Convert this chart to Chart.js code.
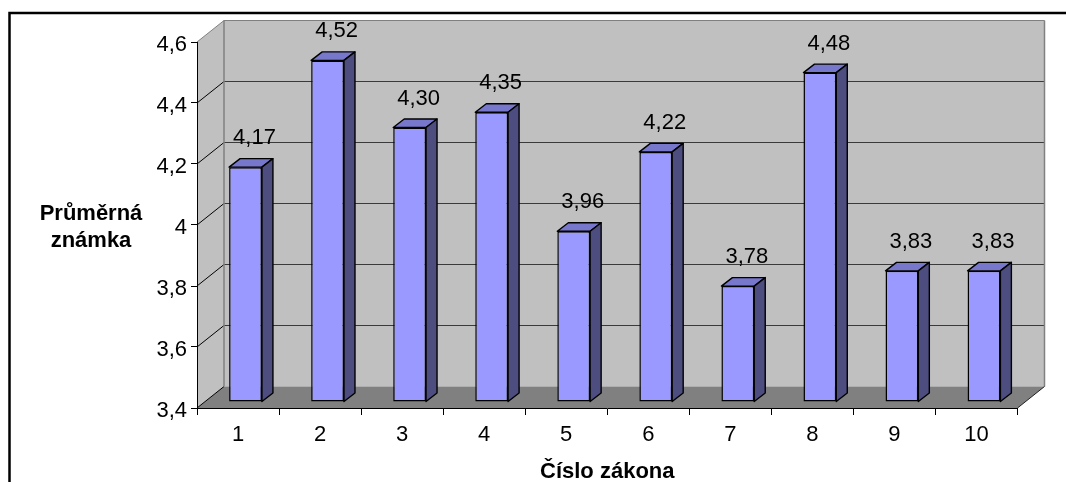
<!DOCTYPE html>
<html>
<head>
<meta charset="utf-8">
<script src="https://cdn.jsdelivr.net/npm/chart.js@4"></script>
<style>
  html, body { margin: 0; padding: 0; background: #fff; }
  canvas { display: block; }
</style>
</head>
<body>
<canvas id="chart" width="1066" height="482"></canvas>
<script>
// data
const categories = ['1', '2', '3', '4', '5', '6', '7', '8', '9', '10'];
const averages = [4.17, 4.52, 4.30, 4.35, 3.96, 4.22, 3.78, 4.48, 3.83, 3.83];
const yTickValues = [3.4, 3.6, 3.8, 4.0, 4.2, 4.4, 4.6];
const yTitleLines = ['Průměrná', 'známka'];
const xTitle = 'Číslo zákona';

// fake 3D offsets (front plane -> back wall, bar position, bar depth)
const WALL_DX = 27, WALL_DY = -21.5;
const BAR_DX = 7.5, BAR_DY = -6;
const SIDE_DX = 11, SIDE_DY = -8.5;

const FONT = "'Liberation Sans', Arial, sans-serif";
Chart.defaults.font.family = FONT;
Chart.defaults.font.size = 22;
Chart.defaults.color = '#000';

const fmt = (v, d) => v.toFixed(d).replace('.', ',');

// walls, floor and back gridlines, under everything
const walls = {
  id: 'walls',
  beforeDraw(chart) {
    const { ctx, chartArea: a, scales: { y } } = chart;
    const L = a.left, R = a.right, T = a.top, B = a.bottom;
    ctx.save();
    ctx.fillStyle = '#c0c0c0';
    // side wall
    ctx.beginPath();
    ctx.moveTo(L, T);
    ctx.lineTo(L + WALL_DX, T + WALL_DY);
    ctx.lineTo(L + WALL_DX, B + WALL_DY);
    ctx.lineTo(L, B);
    ctx.closePath();
    ctx.fill();
    // back wall
    ctx.fillRect(L + WALL_DX, T + WALL_DY, R - L, B - T);
    // floor
    ctx.fillStyle = '#808080';
    ctx.beginPath();
    ctx.moveTo(L, B);
    ctx.lineTo(R, B);
    ctx.lineTo(R + WALL_DX, B + WALL_DY);
    ctx.lineTo(L + WALL_DX, B + WALL_DY);
    ctx.closePath();
    ctx.fill();

    // gridlines on the back wall + diagonals on the side wall
    const top = yTickValues[yTickValues.length - 1];
    yTickValues.forEach(v => {
      const py = y.getPixelForValue(v);
      ctx.strokeStyle = v === top ? '#808080' : '#3a3a3a';
      ctx.lineWidth = 1.2;
      if (v !== yTickValues[0]) {
        ctx.beginPath();
        ctx.moveTo(L + WALL_DX, py + WALL_DY);
        ctx.lineTo(R + WALL_DX, py + WALL_DY);
        ctx.stroke();
      }
      ctx.strokeStyle = v === top ? '#808080' : '#000';
      ctx.lineWidth = 1;
      ctx.beginPath();
      ctx.moveTo(L, py);
      ctx.lineTo(L + WALL_DX, py + WALL_DY);
      ctx.stroke();
    });

    // wall edges
    ctx.strokeStyle = '#808080';
    ctx.lineWidth = 1.5;
    ctx.beginPath();
    ctx.moveTo(L + WALL_DX, B + WALL_DY);
    ctx.lineTo(L + WALL_DX, T + WALL_DY);
    ctx.moveTo(R + WALL_DX, T + WALL_DY);
    ctx.lineTo(R + WALL_DX, B + WALL_DY);
    ctx.stroke();
    // floor right edge
    ctx.strokeStyle = '#202020';
    ctx.lineWidth = 1;
    ctx.beginPath();
    ctx.moveTo(R, B);
    ctx.lineTo(R + WALL_DX, B + WALL_DY);
    ctx.stroke();
    ctx.restore();
  }
};

// shift bars into the floor and add top/side faces + value labels
const bars3d = {
  id: 'bars3d',
  beforeDatasetsDraw(chart) {
    chart.ctx.save();
    chart.ctx.translate(BAR_DX, BAR_DY);
  },
  afterDatasetsDraw(chart) {
    const ctx = chart.ctx;
    const meta = chart.getDatasetMeta(0);
    ctx.lineWidth = 1.4;
    ctx.strokeStyle = '#000';
    ctx.lineJoin = 'round';
    meta.data.forEach(bar => {
      const { x, y, base, width } = bar.getProps(['x', 'y', 'base', 'width'], true);
      const l = x - width / 2, r = x + width / 2;
      // top face
      ctx.fillStyle = '#7777cc';
      ctx.beginPath();
      ctx.moveTo(l, y);
      ctx.lineTo(l + SIDE_DX, y + SIDE_DY);
      ctx.lineTo(r + SIDE_DX, y + SIDE_DY);
      ctx.lineTo(r, y);
      ctx.closePath();
      ctx.fill();
      ctx.stroke();
      // side face
      ctx.fillStyle = '#4d4d80';
      ctx.beginPath();
      ctx.moveTo(r, y);
      ctx.lineTo(r + SIDE_DX, y + SIDE_DY);
      ctx.lineTo(r + SIDE_DX, base + SIDE_DY);
      ctx.lineTo(r, base);
      ctx.closePath();
      ctx.fill();
      ctx.stroke();
    });
    ctx.restore();

    ctx.save();
    ctx.font = '22px ' + FONT;
    ctx.fillStyle = '#000';
    ctx.textAlign = 'center';
    ctx.textBaseline = 'alphabetic';
    meta.data.forEach((bar, i) => {
      ctx.fillText(fmt(averages[i], 2), bar.x + BAR_DX + 9, bar.y + BAR_DY - 23);
    });
    ctx.restore();
  }
};

// axis titles and outer frame
const titles = {
  id: 'titles',
  afterDraw(chart) {
    const ctx = chart.ctx;
    ctx.save();
    ctx.font = 'bold 22px ' + FONT;
    ctx.fillStyle = '#000';
    ctx.textAlign = 'center';
    ctx.textBaseline = 'alphabetic';
    ctx.fillText(yTitleLines[0], 91, 219.5);
    ctx.fillText(yTitleLines[1], 91, 246.5);
    const xs = chart.scales.x;
    ctx.fillText(xTitle, (xs.left + xs.right) / 2, 478);
    ctx.strokeStyle = '#000';
    ctx.lineWidth = 2.5;
    ctx.strokeRect(9.5, 13, 2000, 2000);
    ctx.restore();
  }
};

new Chart(document.getElementById('chart'), {
  type: 'bar',
  data: {
    labels: categories,
    datasets: [{
      data: averages,
      base: 3.4,
      backgroundColor: '#9999ff',
      borderColor: '#000',
      borderWidth: 1.5,
      borderSkipped: false,
      barPercentage: 0.4,
      categoryPercentage: 1,
      clip: false
    }]
  },
  options: {
    responsive: false,
    animation: false,
    devicePixelRatio: 1,
    layout: { padding: { left: 0, top: 42, right: 48.5, bottom: 0 } },
    plugins: {
      legend: { display: false },
      tooltip: { enabled: false }
    },
    scales: {
      x: {
        afterFit(scale) { scale.height = 74; },
        grid: { drawOnChartArea: false, tickLength: 7, color: '#000', offset: true },
        border: { color: '#000', width: 1 },
        ticks: { padding: 7, maxRotation: 0, font: { size: 22 }, color: '#000' }
      },
      y: {
        min: 3.4,
        max: 4.6,
        afterFit(scale) { scale.width = 197; },
        afterBuildTicks(scale) { scale.ticks = yTickValues.map(v => ({ value: v })); },
        grid: { drawOnChartArea: false, tickLength: 6, color: '#000' },
        border: { color: '#000', width: 1 },
        ticks: {
          padding: 4,
          labelOffset: 3,
          font: { size: 22 },
          color: '#000',
          callback: v => fmt(Math.round(v * 10) / 10, Number.isInteger(Math.round(v * 10) / 10) ? 0 : 1)
        }
      }
    }
  },
  plugins: [walls, bars3d, titles]
});
</script>
</body>
</html>
